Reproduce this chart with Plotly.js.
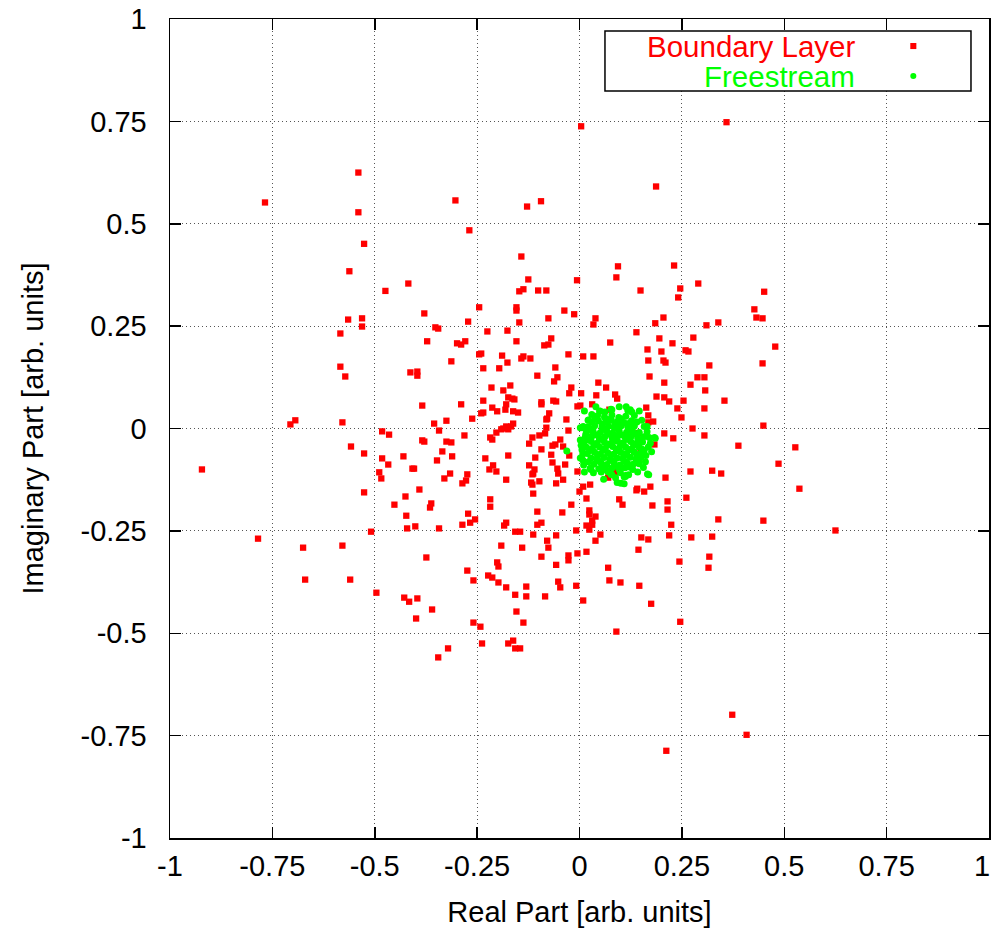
<!DOCTYPE html>
<html><head><meta charset="utf-8">
<script src="https://cdn.plot.ly/plotly-3.0.1.min.js"></script>
<style>html,body{margin:0;padding:0;background:#fff}</style>
</head><body><div id="chart" style="width:991px;height:931px"></div>
<script>
// Axis ticks
const tickVals = [-1, -0.75, -0.5, -0.25, 0, 0.25, 0.5, 0.75, 1];
const tickText = ["-1", "-0.75", "-0.5", "-0.25", "0", "0.25", "0.5", "0.75", "1"];
// the last x label sits on the page edge, so it is drawn as a right-anchored annotation instead
const xTickText = ["-1", "-0.75", "-0.5", "-0.25", "0", "0.25", "0.5", "0.75", ""];
const xLastLabel = "1";
const seriesNames = ["Boundary Layer", "Freestream"];
const xTitle = "Real Part [arb. units]";
const yTitle = "Imaginary Part [arb. units]";

// Boundary layer points [real, imaginary]
const boundaryLayer = [
[-0.540,0.625],[-0.768,0.552],[-0.540,0.528],[-0.526,0.451],[-0.562,0.384],[-0.474,0.336],[-0.418,0.354],
[-0.303,0.557],[-0.128,0.542],[-0.094,0.555],[-0.269,0.484],[0.004,0.738],[0.187,0.591],[-0.142,0.420],
[0.094,0.396],[0.231,0.398],[-0.125,0.364],[-0.006,0.362],[0.090,0.369],[0.290,0.354],[0.246,0.342],
[-0.137,0.340],[-0.101,0.337],[-0.081,0.337],[0.149,0.337],[-0.147,0.335],[0.359,0.748],[0.451,0.334],
[-0.565,0.266],[-0.531,0.269],[-0.531,0.249],[-0.379,0.281],[-0.352,0.247],[-0.345,0.244],[-0.584,0.232],
[-0.372,0.213],[-0.584,0.151],[-0.572,0.127],[-0.413,0.137],[-0.396,0.139],[-0.396,0.129],[-0.384,0.056],
[-0.694,0.020],[-0.706,0.010],[-0.579,0.015],[-0.355,0.012],[-0.325,0.019],[-0.482,-0.007],[-0.465,-0.015],
[-0.343,-0.005],[-0.384,-0.029],[-0.379,-0.032],[-0.558,-0.044],[-0.526,-0.061],[-0.482,-0.073],[-0.430,-0.068],
[-0.467,-0.088],[-0.335,-0.056],[-0.348,-0.078],[-0.408,-0.098],[-0.404,-0.098],[-0.489,-0.107],[-0.484,-0.122],
[-0.330,-0.122],[-0.922,-0.100],[-0.526,-0.156],[-0.391,-0.149],[-0.425,-0.166],[-0.452,-0.186],[-0.362,-0.183],
[-0.365,-0.193],[-0.423,-0.213],[-0.421,-0.244],[-0.401,-0.239],[-0.343,-0.244],[-0.509,-0.252],[-0.785,-0.269],
[-0.675,-0.291],[-0.579,-0.286],[-0.374,-0.315],[0.427,0.291],[0.432,0.271],[0.447,0.269],[0.339,0.259],
[0.478,0.200],[0.447,0.159],[0.354,0.068],[0.449,0.007],[0.388,-0.042],[0.527,-0.046],[0.486,-0.086],
[0.346,-0.110],[0.537,-0.147],[0.339,-0.222],[0.449,-0.225],[0.625,-0.249],[-0.670,-0.369],[-0.560,-0.369],
[-0.496,-0.401],[-0.428,-0.413],[-0.416,-0.423],[-0.396,-0.415],[-0.360,-0.442],[-0.399,-0.464],[-0.345,-0.559],
[-0.274,-0.347],[-0.198,-0.337],[-0.057,-0.333],[0.070,-0.340],[0.315,-0.340],[-0.259,-0.371],[-0.223,-0.359],
[-0.213,-0.364],[-0.198,-0.376],[-0.179,-0.388],[-0.130,-0.386],[-0.052,-0.374],[-0.047,-0.388],[-0.008,-0.384],
[0.073,-0.371],[0.100,-0.376],[0.146,-0.384],[-0.157,-0.406],[-0.130,-0.410],[-0.084,-0.410],[0.009,-0.420],
[0.175,-0.428],[-0.154,-0.447],[-0.137,-0.474],[-0.259,-0.474],[-0.242,-0.484],[0.246,-0.472],[0.090,-0.496],
[-0.321,-0.537],[-0.238,-0.525],[-0.174,-0.525],[-0.162,-0.518],[-0.157,-0.537],[-0.145,-0.537],[0.212,-0.787],
[0.373,-0.699],[0.408,-0.748],[0.241,0.320],[-0.245,0.296],[-0.154,0.296],[-0.154,0.288],[-0.037,0.288],
[-0.013,0.279],[0.039,0.269],[0.034,0.254],[0.205,0.271],[-0.076,0.269],[-0.272,0.261],[-0.147,0.259],
[0.185,0.257],[0.310,0.252],[-0.225,0.237],[-0.176,0.239],[0.139,0.235],[0.278,0.222],[0.195,0.220],
[-0.069,0.220],[-0.299,0.208],[-0.289,0.205],[-0.279,0.213],[-0.154,0.213],[-0.076,0.205],[-0.086,0.203],
[0.075,0.210],[0.227,0.208],[0.166,0.193],[0.200,0.188],[0.259,0.191],[0.266,0.188],[-0.245,0.181],
[-0.240,0.183],[-0.189,0.178],[-0.137,0.176],[-0.142,0.171],[-0.120,0.171],[-0.027,0.181],[0.009,0.176],
[0.034,0.176],[-0.313,0.164],[-0.176,0.161],[0.168,0.166],[0.205,0.166],[0.210,0.161],[0.317,0.154],
[-0.235,0.147],[-0.196,0.147],[-0.059,0.149],[-0.103,0.129],[-0.054,0.125],[-0.062,0.115],[0.171,0.127],
[0.288,0.125],[0.305,0.125],[0.046,0.112],[0.207,0.112],[0.271,0.107],[0.065,0.100],[-0.215,0.100],
[-0.020,0.100],[-0.186,0.093],[-0.169,0.105],[0.307,0.093],[-0.025,0.086],[0.004,0.086],[0.041,0.081],
[0.087,0.083],[0.092,0.073],[0.188,0.078],[0.207,0.076],[0.219,0.066],[0.254,0.068],[-0.174,0.076],
[-0.164,0.073],[-0.159,0.071],[-0.235,0.068],[-0.289,0.059],[-0.093,0.064],[-0.093,0.059],[-0.064,0.068],
[-0.057,0.066],[-0.179,0.059],[-0.181,0.046],[-0.005,0.054],[0.002,0.056],[0.031,0.059],[0.073,0.046],
[0.163,0.051],[0.239,0.049],[0.305,0.049],[-0.213,0.051],[-0.201,0.042],[-0.235,0.039],[-0.240,0.037],
[-0.162,0.042],[-0.150,0.039],[-0.074,0.037],[-0.079,0.024],[-0.081,0.022],[-0.032,0.022],[0.168,0.032],
[0.180,0.017],[0.168,0.015],[0.249,0.027],[-0.262,0.024],[-0.162,0.012],[-0.167,0.005],[-0.179,0.005],
[-0.186,0.000],[-0.191,-0.002],[-0.174,-0.002],[-0.081,0.002],[-0.027,-0.005],[0.276,0.000],[0.305,-0.017],
[0.207,-0.012],[0.229,-0.024],[-0.203,-0.010],[-0.281,-0.017],[-0.084,-0.012],[-0.098,-0.017],[-0.115,-0.022],
[-0.218,-0.022],[-0.213,-0.027],[-0.047,-0.027],[-0.325,-0.032],[-0.313,-0.034],[-0.123,-0.037],[-0.059,-0.039],
[-0.066,-0.042],[-0.040,-0.044],[-0.093,-0.051],[0.183,-0.039],[-0.311,-0.068],[-0.069,-0.064],[-0.025,-0.066],
[-0.174,-0.066],[-0.230,-0.073],[-0.108,-0.071],[0.271,-0.105],[0.324,-0.103],[0.210,-0.120],[-0.066,-0.083],
[-0.035,-0.088],[-0.211,-0.090],[-0.220,-0.100],[-0.203,-0.105],[-0.123,-0.090],[-0.110,-0.100],[-0.113,-0.110],
[-0.115,-0.112],[-0.054,-0.098],[-0.052,-0.110],[-0.005,-0.105],[-0.316,-0.110],[-0.274,-0.112],[-0.277,-0.127],
[-0.286,-0.134],[-0.179,-0.125],[-0.098,-0.129],[-0.118,-0.132],[-0.115,-0.137],[-0.040,-0.125],[-0.057,-0.134],
[0.026,-0.137],[0.009,-0.142],[0.070,-0.120],[0.141,-0.147],[0.139,-0.151],[0.158,-0.154],[0.173,-0.142],
[0.000,-0.154],[-0.113,-0.159],[0.017,-0.171],[0.261,-0.169],[-0.218,-0.173],[-0.218,-0.191],[0.097,-0.173],
[0.105,-0.186],[0.178,-0.188],[0.215,-0.178],[0.215,-0.198],[-0.020,-0.186],[-0.103,-0.203],[-0.042,-0.205],
[0.024,-0.200],[0.024,-0.210],[0.039,-0.215],[0.031,-0.225],[-0.272,-0.208],[-0.255,-0.222],[-0.267,-0.230],
[-0.286,-0.235],[-0.179,-0.230],[-0.184,-0.237],[-0.093,-0.230],[-0.103,-0.235],[0.224,-0.235],[0.017,-0.237],
[0.031,-0.235],[0.024,-0.247],[-0.008,-0.249],[-0.157,-0.252],[-0.145,-0.252],[-0.113,-0.259],[-0.057,-0.261],
[0.051,-0.259],[0.151,-0.266],[0.168,-0.271],[0.219,-0.261],[0.273,-0.266],[0.324,-0.264],[-0.079,-0.274],
[0.039,-0.274],[-0.191,-0.286],[-0.140,-0.291],[-0.076,-0.291],[0.144,-0.296],[0.017,-0.301],[-0.027,-0.310],
[-0.027,-0.322],[-0.005,-0.305],[-0.093,-0.313],[0.244,-0.325],[0.317,-0.313],[-0.201,-0.327],[0.100,0.009],
[0.144,-0.011],[0.149,-0.057],[0.144,-0.084],[0.087,-0.106],[0.009,-0.035]
];

// Freestream points [real, imaginary]
const freestream = [
[-0.031,-0.055],[0.002,0.002],[0.007,0.002],[0.012,0.043],[0.021,0.020],[0.040,0.053],[0.049,0.043],
[0.077,0.047],[0.097,0.053],[0.114,0.053],[0.118,0.044],[0.146,0.043],[0.140,0.016],[0.158,0.005],
[0.183,-0.022],[0.170,-0.022],[0.176,-0.057],[0.158,-0.053],[0.150,-0.071],[0.146,-0.086],[0.142,-0.106],
[0.166,-0.111],[0.114,-0.114],[0.109,-0.118],[0.092,-0.132],[0.101,-0.134],[0.109,-0.135],[0.059,-0.124],
[0.077,-0.112],[0.034,-0.108],[0.028,-0.100],[0.012,-0.106],[0.008,-0.077],[0.010,-0.089],[0.002,-0.028],
[0.004,-0.041],[0.053,-0.106],[0.165,0.005],[0.185,-0.024],[0.173,-0.036],[0.161,-0.081],[0.169,-0.113],
[0.022,-0.081],[0.026,-0.097],[0.079,-0.113],[0.112,-0.117],[0.120,-0.113],[0.002,-0.072],[0.006,-0.052],
[0.022,0.021],[0.009,0.005],[0.079,0.046],[0.124,0.046],[0.051,0.042],
[0.044,0.031],[0.061,0.028],[0.079,0.033],[0.096,0.027],[0.113,0.030],
[0.031,0.016],[0.046,0.019],[0.064,0.015],[0.078,0.020],[0.093,0.017],[0.109,0.014],[0.127,0.019],
[0.021,0.004],[0.037,0.007],[0.055,0.003],[0.071,0.006],[0.085,0.002],[0.102,0.007],[0.118,0.004],[0.134,0.006],
[0.017,-0.009],[0.033,-0.006],[0.051,-0.010],[0.067,-0.007],[0.081,-0.011],[0.097,-0.006],[0.115,-0.009],[0.129,-0.005],[0.146,-0.010],
[0.014,-0.022],[0.030,-0.019],[0.048,-0.023],[0.062,-0.020],[0.080,-0.024],[0.094,-0.018],[0.112,-0.022],[0.126,-0.019],[0.142,-0.023],[0.157,-0.020],
[0.011,-0.035],[0.029,-0.032],[0.043,-0.036],[0.061,-0.033],[0.075,-0.037],[0.093,-0.031],[0.107,-0.035],[0.125,-0.032],[0.139,-0.036],[0.154,-0.033],
[0.017,-0.046],[0.031,-0.049],[0.049,-0.045],[0.063,-0.048],[0.081,-0.044],[0.095,-0.049],[0.113,-0.046],[0.127,-0.050],[0.145,-0.045],
[0.019,-0.061],[0.037,-0.058],[0.051,-0.062],[0.069,-0.059],[0.083,-0.063],[0.101,-0.058],[0.115,-0.061],[0.133,-0.057],[0.147,-0.062],
[0.028,-0.072],[0.042,-0.075],[0.060,-0.071],[0.074,-0.076],[0.092,-0.072],[0.106,-0.074],[0.124,-0.070],[0.138,-0.075],
[0.035,-0.087],[0.053,-0.084],[0.067,-0.088],[0.085,-0.085],[0.099,-0.089],[0.117,-0.084],[0.131,-0.087],
[0.047,-0.098],[0.065,-0.101],[0.079,-0.097],[0.097,-0.100],[0.111,-0.096],
[0.038,0.024],[0.070,0.022],[0.102,0.023],[0.055,0.011],[0.087,0.010],[0.120,0.012],
[0.027,-0.001],[0.060,-0.002],[0.092,0.000],[0.124,-0.001],
[0.040,-0.015],[0.072,-0.014],[0.104,-0.016],[0.136,-0.013],
[0.022,-0.028],[0.054,-0.027],[0.086,-0.029],[0.118,-0.026],[0.148,-0.028],
[0.036,-0.041],[0.068,-0.040],[0.100,-0.042],[0.132,-0.040],
[0.026,-0.054],[0.058,-0.053],[0.090,-0.055],[0.122,-0.052],[0.152,-0.050],
[0.044,-0.067],[0.076,-0.066],[0.108,-0.068],[0.140,-0.066],
[0.048,-0.080],[0.080,-0.079],[0.112,-0.081],[0.142,-0.078],
[0.058,-0.093],[0.090,-0.092],[0.122,-0.094],
[0.070,-0.106],[0.100,-0.108],[0.088,-0.120],[0.130,-0.100],[0.156,-0.095],[0.162,-0.066],[0.168,-0.045],
[0.165,-0.008],[0.152,0.020],[0.134,0.032],[0.128,0.040],[0.062,0.040],[0.030,0.034],[0.015,-0.015],[0.008,-0.062]
];

const FONT = "Liberation Sans, Arial, Helvetica, sans-serif";
const RED = "#ff0000";
const GREEN = "#00ff00";

const traces = [
  {
    type: "scatter", mode: "markers", name: seriesNames[0],
    x: boundaryLayer.map(p => p[0]), y: boundaryLayer.map(p => p[1]),
    marker: {symbol: "square", size: 6.3, color: RED, line: {width: 0}},
    showlegend: false, hoverinfo: "x+y"
  },
  {
    type: "scatter", mode: "markers", name: seriesNames[1],
    x: freestream.map(p => p[0]), y: freestream.map(p => p[1]),
    marker: {symbol: "circle", size: 7, color: GREEN, line: {width: 0}},
    showlegend: false, hoverinfo: "x+y"
  }
];

const axisCommon = {
  range: [-1, 1], tickmode: "array", tickvals: tickVals, ticktext: tickText,
  ticks: "inside", ticklen: 11, tickwidth: 1.5, tickcolor: "#000",
  showline: true, linecolor: "#000", linewidth: 1.5, mirror: "ticks",
  showgrid: true, gridcolor: "#555", gridwidth: 1, griddash: "1px,3px",
  zeroline: false, tickfont: {family: FONT, size: 29, color: "#000"},
  fixedrange: true
};

const layout = {
  width: 991, height: 931,
  margin: {l: 170, r: 2, t: 19, b: 93, autoexpand: false},
  paper_bgcolor: "#fff", plot_bgcolor: "#fff",
  font: {family: FONT, size: 29, color: "#000"},
  showlegend: false,
  xaxis: Object.assign({}, axisCommon, {
    ticktext: xTickText,
    ticklabelstandoff: 2,
    title: {text: xTitle, font: {family: FONT, size: 29, color: "#000"}, standoff: 20}
  }),
  yaxis: Object.assign({}, axisCommon, {
    ticklabelstandoff: 16,
    title: {text: yTitle, font: {family: FONT, size: 29, color: "#000"}, standoff: 28}
  }),
  shapes: [
    {type: "rect", xref: "paper", yref: "paper", x0: 0.5311, x1: 0.978, y0: 0.9121, y1: 0.9853,
     line: {color: "#000", width: 1.5}, fillcolor: "#fff", layer: "above"},
    {type: "rect", xref: "paper", yref: "paper", x0: 0.9039, x1: 0.9113, y0: 0.9633, y1: 0.9707,
     line: {width: 0}, fillcolor: RED, layer: "above"},
    {type: "circle", xref: "paper", yref: "paper", x0: 0.9039, x1: 0.9113, y0: 0.9267, y1: 0.9341,
     line: {width: 0}, fillcolor: GREEN, layer: "above"}
  ],
  annotations: [
    {xref: "paper", yref: "paper", x: 0.8385, y: 0.967, xanchor: "right", yanchor: "middle",
     text: seriesNames[0], showarrow: false, font: {family: FONT, size: 29.5, color: RED}},
    {xref: "paper", yref: "paper", x: 0.8385, y: 0.9304, xanchor: "right", yanchor: "middle",
     text: seriesNames[1], showarrow: false, font: {family: FONT, size: 29.5, color: GREEN}},
    {xref: "paper", yref: "paper", x: 1.0022, y: -0.0342, xanchor: "right", yanchor: "middle",
     text: xLastLabel, showarrow: false, borderpad: 0, font: {family: FONT, size: 29, color: "#000"}}
  ]
};

Plotly.newPlot("chart", traces, layout, {displayModeBar: false, staticPlot: true});
</script>
</body></html>
